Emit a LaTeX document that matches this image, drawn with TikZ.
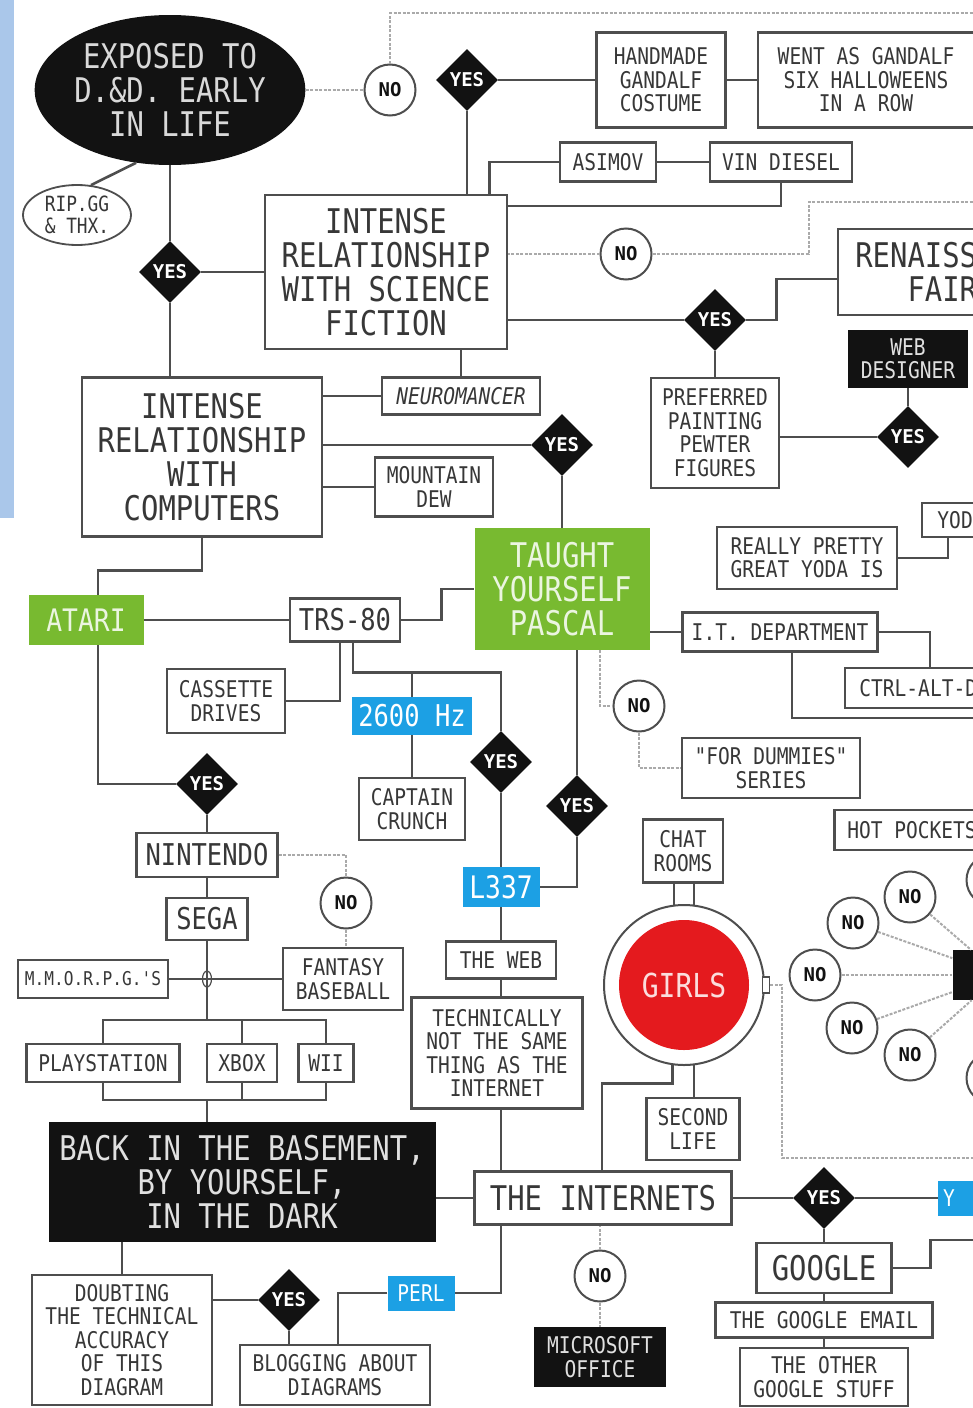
\documentclass[tikz,border=0pt]{standalone}
\usepackage{fontspec}
\usepackage{tikz}
\usetikzlibrary{shapes.geometric, positioning}

\newfontfamily\pixfont[FakeStretch=0.85]{DejaVu Sans Mono}
\newfontfamily\tagfont{DejaVu Sans Mono}

\definecolor{ink}{RGB}{55,55,55}
\definecolor{wirec}{RGB}{78,78,78}
\definecolor{nogray}{RGB}{170,170,170}
\definecolor{pascalgreen}{RGB}{120,186,48}
\definecolor{hzblue}{RGB}{28,160,228}
\definecolor{girlred}{RGB}{228,26,30}
\definecolor{stripblue}{RGB}{170,199,234}
\definecolor{nearblack}{RGB}{18,18,18}

\begin{document}
\begin{tikzpicture}[x=1pt, y=-1pt, on grid,
  bigtext/.style={font=\pixfont\fontsize{34}{34}\selectfont},
  medtext/.style={font=\pixfont\fontsize{30}{30}\selectfont},
  smalltext/.style={font=\pixfont\fontsize{23}{23.5}\selectfont},
  sz/.style 2 args={minimum width=#1pt, minimum height=#2pt},
  plainbox/.style={rectangle, draw=wirec, line width=2.4pt, fill=white, text=ink, align=center, inner sep=0pt},
  blackbox/.style={rectangle, fill=nearblack, text=white!88!black, align=center, inner sep=0pt},
  greenbox/.style={rectangle, fill=pascalgreen, text=white!85!pascalgreen, align=center, inner sep=0pt},
  bluebox/.style={rectangle, fill=hzblue, text=white, align=center, inner sep=0pt},
  yesdia/.style={diamond, fill=nearblack, text=white, inner sep=0pt, minimum width=62pt, minimum height=62pt, font=\tagfont\bfseries\fontsize{19}{19}\selectfont},
  nocirc/.style={circle, draw=wirec, line width=2pt, fill=white, text=nearblack, inner sep=0pt, minimum size=51pt, font=\tagfont\bfseries\fontsize{19}{19}\selectfont},
  wire/.style={draw=wirec, line width=2.6pt},
  nowire/.style={draw=nogray, line width=2pt, dash pattern=on 3pt off 1.5pt}]

\useasboundingbox (0,0) rectangle (972,1408);
\fill[white] (0,0) rectangle (972,1408);
\fill[stripblue] (0,0) rectangle (14,518);

\node[ellipse, fill=nearblack, text=white!85!black, align=center, inner sep=0pt, bigtext, sz={262}{150}] (dnd) at (170,90) {EXPOSED TO\\D.\&D. EARLY\\IN LIFE};
\node[ellipse, draw=wirec, line width=1.8pt, text=ink, align=center, inner sep=0pt, font=\pixfont\fontsize{21}{22}\selectfont, sz={108}{60}] (rip) at (77,215) {RIP.GG\\\& THX.};
\node[yesdia] (yes1) at (170,272) {YES};
\node[plainbox, bigtext, sz={242}{154}] (scifi) at (386,272) {INTENSE\\RELATIONSHIP\\WITH SCIENCE\\FICTION};
\node[nocirc] (no1) at (390,90) {NO};
\node[yesdia] (yes2) at (467,80) {YES};
\node[plainbox, smalltext, sz={129}{95}] (handmade) at (661,80) {HANDMADE\\GANDALF\\COSTUME};
\node[plainbox, smalltext, sz={216}{95}] (went) at (866,80) {WENT AS GANDALF\\SIX HALLOWEENS\\IN A ROW};
\node[plainbox, smalltext, sz={96}{39}] (asimov) at (608,162) {ASIMOV};
\node[plainbox, smalltext, sz={142}{39}] (vin) at (781,162) {VIN DIESEL};
\node[nocirc] (no2) at (626,254) {NO};
\node[yesdia] (yes3) at (715,320) {YES};
\node[plainbox, bigtext, sz={226}{86}] (renai) at (951,272) {RENAISSANCE\\FAIRE};
\node[blackbox, smalltext, sz={120}{58}] (webdes) at (908,359) {WEB\\DESIGNER};
\node[yesdia] (yes4) at (908,437) {YES};
\node[plainbox, smalltext, sz={128}{110}] (pref) at (715,433) {PREFERRED\\PAINTING\\PEWTER\\FIGURES};
\node[plainbox, font=\pixfont\itshape\fontsize{23}{23.5}\selectfont, sz={158}{37}] (neuro) at (461,396) {NEUROMANCER};
\node[plainbox, bigtext, sz={240}{159}] (comp) at (202,457) {INTENSE\\RELATIONSHIP\\WITH\\COMPUTERS};
\node[yesdia] (yes5) at (562,445) {YES};
\node[plainbox, smalltext, sz={118}{59}] (mdew) at (434,487) {MOUNTAIN\\DEW};
\node[greenbox, bigtext, sz={175}{122}] (pascal) at (562,589) {TAUGHT\\YOURSELF\\PASCAL};
\node[plainbox, smalltext, sz={195}{39}] (it) at (780,632) {I.T. DEPARTMENT};
\node[plainbox, smalltext, sz={170}{40}] (ctrl) at (930,688) {CTRL-ALT-DEL};
\node[plainbox, smalltext, sz={180}{62}] (really) at (807,558) {REALLY PRETTY\\GREAT YODA IS};
\node[plainbox, smalltext, sz={78}{34}] (yo) at (961,520) {YODA};
\node[greenbox, font=\pixfont\fontsize{31}{31}\selectfont, sz={115}{50}] (atari) at (86,620) {ATARI};
\node[plainbox, medtext, sz={110}{43}] (trs) at (345,620) {TRS-80};
\node[plainbox, smalltext, sz={118}{64}] (cassette) at (226,701) {CASSETTE\\DRIVES};
\node[bluebox, medtext, sz={120}{38}] (hz) at (412,716) {2600 Hz};
\node[plainbox, smalltext, sz={106}{62}] (captain) at (412,809) {CAPTAIN\\CRUNCH};
\node[yesdia] (yes6) at (501,762) {YES};
\node[yesdia] (yes7) at (577,806) {YES};
\node[nocirc] (no3) at (639,706) {NO};
\node[plainbox, smalltext, sz={178}{60}] (dummies) at (771,768) {"FOR DUMMIES"\\SERIES};
\node[bluebox, font=\pixfont\fontsize{31}{31}\selectfont, sz={77}{40}] (l337) at (501,887) {L337};
\node[plainbox, smalltext, sz={110}{37}] (web) at (501,960) {THE WEB};
\node[plainbox, smalltext, sz={171}{111}] (tech) at (497,1053) {TECHNICALLY\\NOT THE SAME\\THING AS THE\\INTERNET};
\node[plainbox, bigtext, sz={257}{53}] (inter) at (603,1198) {THE INTERNETS};
\node[circle, draw=wirec, line width=2pt, minimum size=160pt] (ring) at (684,985) {};
\node[circle, fill=girlred, text=white!85!girlred, inner sep=0pt, minimum size=130pt, font=\pixfont\fontsize{33}{33}\selectfont] (girls) at (684,985) {GIRLS};
\node[rectangle, draw=wirec, line width=1.5pt, fill=white, inner sep=0pt, sz={7}{16}] (nub) at (766,985) {};
\node[plainbox, smalltext, sz={80}{63}] (chat) at (683,851) {CHAT\\ROOMS};
\node[plainbox, smalltext, sz={93}{62}] (second) at (693,1129) {SECOND\\LIFE};
\node[plainbox, smalltext, sz={155}{40}] (hot) at (912,830) {HOT POCKETS};
\node[blackbox, sz={95}{50}] (hub) at (1000,975) {};
\node[nocirc] (noa) at (910,897) {NO};
\node[nocirc] (nob) at (853,923) {NO};
\node[nocirc] (noc) at (815,975) {NO};
\node[nocirc] (nod) at (852,1028) {NO};
\node[nocirc] (noe) at (910,1055) {NO};
\node[nocirc] (nof) at (992,880) {NO};
\node[nocirc] (nog) at (992,1078) {NO};
\node[yesdia] (yes8) at (824,1198) {YES};
\node[bluebox, smalltext, anchor=west, sz={80}{35}, text width=70pt, align=left] (ybox) at (938,1198) {Y};
\node[plainbox, bigtext, sz={135}{50}] (google) at (824,1268) {GOOGLE};
\node[plainbox, smalltext, sz={217}{35}, below=52pt of google] (gmail) {THE GOOGLE EMAIL};
\node[plainbox, smalltext, sz={168}{58}, below=57pt of gmail] (other) {THE OTHER\\GOOGLE STUFF};
\node[nocirc] (no4) at (600,1276) {NO};
\node[blackbox, smalltext, sz={132}{60}] (ms) at (600,1357) {MICROSOFT\\OFFICE};
\node[bluebox, smalltext, sz={67}{35}] (perl) at (421,1293) {PERL};
\node[plainbox, smalltext, sz={190}{60}] (blog) at (335,1375) {BLOGGING ABOUT\\DIAGRAMS};
\node[yesdia] (yes9) at (289,1300) {YES};
\node[plainbox, smalltext, sz={180}{130}] (doubt) at (122,1340) {DOUBTING\\THE TECHNICAL\\ACCURACY\\OF THIS\\DIAGRAM};
\node[blackbox, bigtext, sz={387}{120}] (base) at (242,1182) {BACK IN THE BASEMENT,\\BY YOURSELF,\\IN THE DARK};
\node[plainbox, smalltext, sz={153}{38}] (play) at (103,1063) {PLAYSTATION};
\node[plainbox, smalltext, sz={70}{38}] (xbox) at (242,1063) {XBOX};
\node[plainbox, smalltext, sz={55}{38}] (wii) at (326,1063) {WII};
\node[yesdia] (yes10) at (207,784) {YES};
\node[plainbox, medtext, sz={141}{44}] (nin) at (207,855) {NINTENDO};
\node[plainbox, medtext, sz={81}{42}, below=64pt of nin] (sega) {SEGA};
\node[nocirc] (no5) at (346,903) {NO};
\node[plainbox, font=\pixfont\fontsize{19}{19}\selectfont, sz={150}{38}] (mmo) at (93,979) {M.M.O.R.P.G.'S};
\node[plainbox, smalltext, sz={120}{62}] (fantasy) at (343,979) {FANTASY\\BASEBALL};

\coordinate (topend) at (980,13);
\coordinate (no2end) at (980,202);
\coordinate (itend) at (980,718);
\coordinate (nubend) at (980,1158);
\coordinate (gend) at (980,1240);
\coordinate (topbar) at (207,1020);
\coordinate (botbar) at (207,1100);

\path[wire]
(dnd) edge (yes1)
(yes1) edge (yes1 |- comp.north)
(yes1) edge (scifi)
(yes2) edge (yes2 |- scifi.north)
(yes2) edge (handmade)
(handmade) edge (went)
(asimov) edge (vin)
(neuro) edge (neuro |- scifi.south)
(neuro) edge (neuro -| comp.east)
(yes3) edge (yes3 -| scifi.east)
(yes3) edge (pref)
(webdes) edge (yes4)
(yes4) edge (yes4 -| pref.east)
(yes5) edge (yes5 -| comp.east)
(yes5) edge (pascal)
(mdew) edge (mdew -| comp.east)
(it) edge (it -| pascal.east)
(atari) edge (trs)
(hz) edge (captain)
(yes6) edge (l337)
(yes7) edge (yes7 |- pascal.south)
(l337) edge (web)
(web.south) edge (web.south |- tech.north)
(web.south |- tech.south) edge (web.south |- inter.north)
(yes10) edge (nin)
(nin) edge (sega)
(mmo) edge (fantasy)
(sega) edge (topbar)
(xbox.north) edge (xbox.north |- topbar)
(xbox.south) edge (xbox.south |- botbar)
(botbar) edge (botbar |- base.north)
(doubt.north) edge (doubt.north |- base.south)
(inter.west) edge (inter.west -| base.east)
(yes9) edge (yes9 -| doubt.east)
(yes9) edge (yes9 |- blog.north)
(inter) edge (yes8)
(yes8) edge (ybox)
(yes8) edge (google)
(google) edge (gmail)
(gmail) edge (other)
(ring.97) edge (ring.97 |- chat.south)
(ring.83) edge (ring.83 |- chat.south)
(ring.277) edge (ring.277 |- second.north)
(dnd.245) edge (rip.65);

\draw[wire]
(asimov.west) -| ([xshift=-19pt]scifi.north east)
(vin.south) |- ([yshift=-12pt]scifi.north east)
(yes3.east) -- ++(30,0) |- ([yshift=-7pt]renai.west)
(it.east) -| (ctrl.north)
([xshift=12pt]it.south) |- (itend)
(really.east) -| ([xshift=-13pt]yo.south)
(comp.south) -- ++(0,33) -| ([xshift=12pt]atari.north)
(trs.east) -- ++(40,0) |- (pascal.west)
([xshift=-5pt]trs.south) |- (cassette.east)
([xshift=8pt]trs.south) -- ++(0,30) -| (yes6.north)
(hz.north) -- ++(0,-25)
(yes7.south) |- (l337.east)
([xshift=12pt]atari.south) |- (yes10.west)
(play.north) |- (topbar) -| (wii.north)
(play.south) |- (botbar) -| (wii.south)
(ring.262) -- ++(0,18) -| ([xshift=-1pt]inter.north)
([xshift=-102pt]inter.south) |- (perl.east)
(perl.west) -| ([xshift=3pt]blog.north)
(google.east) -- ++(38,0) |- (gend);

\path[nowire]
(dnd) edge (no1)
(no2) edge (no2 -| scifi.east)
(no4) edge (no4 |- inter.south)
(no4) edge (ms)
(no5) edge (no5 |- fantasy.north)
(noa) edge (hub)
(nob) edge (hub)
(noc) edge (hub)
(nod) edge (hub)
(noe) edge (hub)
(nof) edge (hub)
(nog) edge (hub);

\draw[nowire]
(no1.north) |- (topend)
(no2.east) -- ++(156,0) |- (no2end)
([xshift=38pt]pascal.south) |- (no3.west)
(no3.south) |- (dummies.west)
(nin.east) -| (no5.north)
(nub.east) -- ++(12,0) |- (nubend);

\node[ellipse, draw=wirec, line width=1.2pt, inner sep=0pt, sz={9}{16}] (hop) at (sega |- mmo) {};

\end{tikzpicture}
\end{document}
